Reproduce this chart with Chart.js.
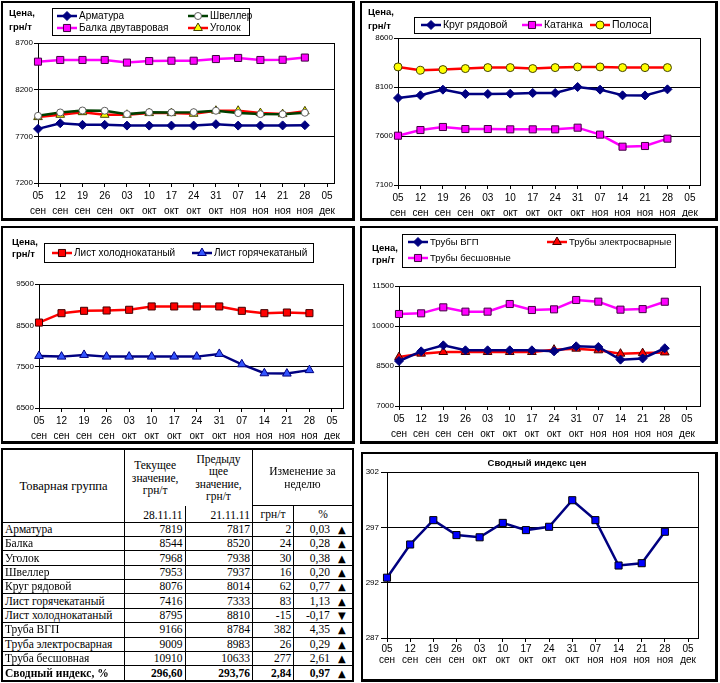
<!DOCTYPE html>
<html>
<head>
<meta charset="utf-8">
<script src="https://cdn.jsdelivr.net/npm/chart.js@4.4.1/dist/chart.umd.min.js"></script>
<style>
  body { margin: 0; width: 720px; height: 683px; position: relative; background: #fff; overflow: hidden;
         font-family: "Liberation Sans", Arial, sans-serif; }
  .panel { position: absolute; box-sizing: border-box; border: 2px solid #000; border-right-width: 3px; border-bottom-width: 3px; }
  canvas { position: absolute; }
  .unit { position: absolute; font: bold 9.5px "Liberation Sans", Arial, sans-serif; line-height: 14px; color: #000; }
  .title { position: absolute; font: bold 9.5px "Liberation Sans", Arial, sans-serif; text-align: center; }
  #tbl { position: absolute; left: 1px; top: 448px; width: 353px; height: 234px; border-collapse: collapse;
         table-layout: fixed; border: 2px solid #000; font: 11.5px "Liberation Serif", "DejaVu Serif", serif; color: #000; }
  #tbl td, #tbl th { border: 1px solid #000; padding: 0 2px; white-space: nowrap; overflow: hidden; }
  #tbl th { font: 11.5px/12.5px "Liberation Serif", "DejaVu Serif", serif; }
  #tbl th.grp { font-size: 12.5px; }
  #tbl td { height: 13px; line-height: 13px; }
  #tbl .num { text-align: right; }
  #tbl .pct { text-align: right; border-right: none; padding-right: 6px; }
  #tbl .arr { text-align: left; border-left: none; font-family: "DejaVu Sans", sans-serif; font-size: 10px; }
  #tbl .nr { border-right: none; }
  #tbl .nl { border-left: none; }
  #tbl .nb { border-bottom: none; }
  #tbl .nt { border-top: none; }
  #tbl .dt { text-align: right; vertical-align: bottom; }
  #tbl tr.total td { font-weight: bold; }
</style>
</head>
<body>

<div class="panel" style="left:1px;top:1px;width:354px;height:220px"></div>
<div class="panel" style="left:360px;top:1px;width:358px;height:220px"></div>
<div class="panel" style="left:1px;top:226px;width:354px;height:218px"></div>
<div class="panel" style="left:360px;top:226px;width:358px;height:218px"></div>
<div class="panel" style="left:361px;top:452px;width:357px;height:230px"></div>

<canvas id="c1" width="354" height="220" style="left:1px;top:1px"></canvas>
<canvas id="c2" width="358" height="220" style="left:360px;top:1px"></canvas>
<canvas id="c3" width="354" height="218" style="left:1px;top:226px"></canvas>
<canvas id="c4" width="358" height="218" style="left:360px;top:226px"></canvas>
<canvas id="c6" width="357" height="230" style="left:361px;top:452px"></canvas>

<div class="unit" style="left:9px;top:6px">Цена,<br>грн/т</div>
<div class="unit" style="left:368px;top:5px">Цена,<br>грн/т</div>
<div class="unit" style="left:12px;top:236px;line-height:12px">Цена,<br>грн/т</div>
<div class="unit" style="left:372px;top:242px;line-height:12px">Цена,<br>грн/т</div>
<div class="title" style="left:437px;top:457px;width:200px">Сводный индекс цен</div>

<table id="tbl">
  <colgroup>
    <col style="width:122px"><col style="width:60px"><col style="width:67px">
    <col style="width:41px"><col style="width:42px"><col style="width:17px">
  </colgroup>
  <tr style="height:55px">
    <th rowspan="2" class="grp">Товарная группа</th>
    <th class="nb nr">Текущее<br>значение,<br>грн/т</th>
    <th class="nb nl">Предыду<br>щее<br>значение,<br>грн/т</th>
    <th colspan="3">Изменение за<br>неделю</th>
  </tr>
  <tr style="height:16px">
    <th class="dt nt">28.11.11</th>
    <th class="dt nt">21.11.11</th>
    <th>грн/т</th>
    <th colspan="2">%</th>
  </tr>
  <tbody id="rows"></tbody>
</table>

<script>
// x axis: weeks
const xDays = ['05', '12', '19', '26', '03', '10', '17', '24', '31', '07', '14', '21', '28', '05'];
const xMonths = ['сен', 'сен', 'сен', 'сен', 'окт', 'окт', 'окт', 'окт', 'окт', 'ноя', 'ноя', 'ноя', 'ноя', 'дек'];

// chart 1
const armatura = [7780, 7840, 7823, 7823, 7815, 7815, 7815, 7815, 7830, 7815, 7815, 7817, 7819];
const shveller = [7920, 7956, 7977, 7974, 7938, 7959, 7956, 7959, 7974, 7949, 7938, 7937, 7953];
const balka    = [8500, 8518, 8518, 8518, 8490, 8507, 8510, 8510, 8528, 8540, 8518, 8520, 8544];
const ugolok   = [7906, 7931, 7959, 7931, 7931, 7949, 7949, 7942, 7974, 7974, 7949, 7938, 7968];

// chart 2
const krug    = [7988, 8015, 8073, 8029, 8029, 8032, 8039, 8039, 8100, 8073, 8015, 8014, 8076];
const katanka = [7603, 7661, 7692, 7671, 7671, 7668, 7668, 7668, 7685, 7614, 7491, 7498, 7573];
const polosa  = [8305, 8271, 8278, 8288, 8298, 8298, 8288, 8298, 8305, 8305, 8298, 8298, 8298];

// chart 3
const listCold = [8567, 8794, 8851, 8859, 8876, 8957, 8957, 8957, 8957, 8851, 8794, 8810, 8795];
const listHot  = [7760, 7743, 7784, 7743, 7743, 7743, 7743, 7743, 7808, 7557, 7340, 7333, 7416];

// chart 4
const tubeVgp      = [8688, 9050, 9275, 9088, 9088, 9088, 9088, 9050, 9238, 9213, 8738, 8784, 9166];
const tubeElectro  = [8838, 8963, 9025, 9025, 9025, 9025, 9025, 9113, 9150, 9088, 8963, 8983, 9009];
const tubeSeamless = [10450, 10475, 10700, 10538, 10538, 10825, 10600, 10625, 10975, 10913, 10613, 10633, 10910];

// chart 5: summary index
const priceIndex = [292.45, 295.45, 297.65, 296.3, 296.1, 297.4, 296.75, 297.05, 299.45, 297.65, 293.55, 293.76, 296.6];

// table
const tableRows = [
  ['Арматура', '7819', '7817', '2', '0,03', '▲'],
  ['Балка', '8544', '8520', '24', '0,28', '▲'],
  ['Уголок', '7968', '7938', '30', '0,38', '▲'],
  ['Швеллер', '7953', '7937', '16', '0,20', '▲'],
  ['Круг рядовой', '8076', '8014', '62', '0,77', '▲'],
  ['Лист горячекатаный', '7416', '7333', '83', '1,13', '▲'],
  ['Лист холоднокатаный', '8795', '8810', '-15', '-0,17', '▼'],
  ['Труба ВГП', '9166', '8784', '382', '4,35', '▲'],
  ['Труба электросварная', '9009', '8983', '26', '0,29', '▲'],
  ['Труба бесшовная', '10910', '10633', '277', '2,61', '▲'],
  ['Сводный индекс, %', '296,60', '293,76', '2,84', '0,97', '▲']
];

const tbody = document.getElementById('rows');
tableRows.forEach((r, i) => {
  const tr = document.createElement('tr');
  if (i === tableRows.length - 1) tr.className = 'total';
  tr.innerHTML = `<td>${r[0]}</td><td class="num">${r[1]}</td><td class="num">${r[2]}</td>` +
    `<td class="num">${r[3]}</td><td class="pct">${r[4]}</td><td class="arr">${r[5]}</td>`;
  tbody.appendChild(tr);
});

const FONT = '"Liberation Sans", Arial, sans-serif';

// frame round the plot area (excel style)
const plotFrame = {
  id: 'plotFrame',
  beforeDatasetsDraw(chart) {
    const { left, top, right, bottom } = chart.chartArea;
    const ctx = chart.ctx;
    ctx.save();
    ctx.strokeStyle = '#000';
    ctx.lineWidth = 1;
    ctx.strokeRect(Math.round(left) + 0.5, Math.round(top) + 0.5, Math.round(right - left), Math.round(bottom - top));
    ctx.restore();
  }
};

// boxed legend with line + marker samples
const boxLegend = {
  id: 'boxLegend',
  afterDraw(chart, args, opts) {
    if (!opts.box) return;
    const ctx = chart.ctx;
    const b = opts.box;
    ctx.save();
    ctx.fillStyle = '#fff';
    ctx.fillRect(b[0], b[1], b[2], b[3]);
    ctx.strokeStyle = '#000';
    ctx.lineWidth = 1;
    ctx.strokeRect(b[0] + 0.5, b[1] + 0.5, b[2], b[3]);
    ctx.font = opts.size + 'px ' + FONT;
    ctx.textBaseline = 'middle';
    chart.data.datasets.forEach((ds, i) => {
      const [x, y] = opts.items[i];
      ctx.strokeStyle = ds.borderColor;
      ctx.lineWidth = ds.borderWidth;
      ctx.beginPath(); ctx.moveTo(x, y); ctx.lineTo(x + 20, y); ctx.stroke();
      ctx.fillStyle = ds.pointBackgroundColor;
      ctx.strokeStyle = ds.pointBorderColor;
      ctx.lineWidth = 1;
      if (Chart.helpers && Chart.helpers.drawPoint) {
        Chart.helpers.drawPoint(ctx, { pointStyle: ds.pointStyle, radius: ds.pointRadius, rotation: 0, borderWidth: 1 }, x + 10, y);
      } else {
        ctx.fillRect(x + 7, y - 3, 6, 6);
      }
      ctx.fillStyle = '#000';
      ctx.fillText(ds.label, x + 22, y + 0.5);
    });
    ctx.restore();
  }
};

function series(label, values, line, marker, r, fill, edge) {
  return {
    label,
    data: values.map((v, i) => ({ x: i, y: v })),
    borderColor: line, borderWidth: 2.5,
    pointStyle: marker, pointRadius: r,
    pointBackgroundColor: fill, pointBorderColor: edge, pointBorderWidth: 1,
    tension: 0, clip: false
  };
}

function makeChart(id, datasets, c) {
  new Chart(document.getElementById(id), {
    type: 'line',
    data: { datasets },
    options: {
      responsive: false,
      animation: false,
      events: [],
      layout: { padding: c.pad },
      plugins: {
        legend: { display: false },
        tooltip: { enabled: false },
        boxLegend: { box: c.box, items: c.items, size: c.legendSize || 10.5 }
      },
      scales: {
        x: {
          type: 'linear', min: 0, max: c.xMax,
          afterBuildTicks: s => { s.ticks = xDays.map((_, i) => ({ value: i })); },
          afterFit: s => { s.height = c.xH; },
          grid: { drawOnChartArea: false, color: '#000', tickLength: 4 },
          border: { color: '#000' },
          ticks: {
            autoSkip: false, maxRotation: 0, padding: 2, color: '#000',
            font: { family: FONT, size: 10, lineHeight: c.lh },
            callback: v => [xDays[v], xMonths[v]]
          }
        },
        y: {
          min: c.yMin, max: c.yMax,
          afterFit: s => { s.width = c.yW; },
          grid: { color: '#000', tickLength: c.yTick || 4 },
          border: { color: '#000' },
          ticks: {
            stepSize: c.yStep, color: '#000', padding: c.yPad || 1,
            font: { family: FONT, size: 8 },
            callback: v => String(v)
          }
        }
      }
    },
    plugins: [plotFrame, boxLegend]
  });
}

const NAVY = '#000080', MAGENTA = '#FF00FF', RED = '#FF0000', YELLOW = '#FFFF00';

makeChart('c1', [
  series('Арматура', armatura, NAVY, 'rectRot', 4.5, NAVY, NAVY),
  series('Швеллер', shveller, '#004000', 'circle', 3.5, '#fff', '#606060'),
  series('Балка двутавровая', balka, MAGENTA, 'rect', 5, MAGENTA, '#400040'),
  series('Уголок', ugolok, RED, 'triangle', 5, YELLOW, '#404000')
], {
  pad: { left: 2, top: 42, right: 21, bottom: 4 }, yW: 35, xH: 34, xMax: 13.31, lh: 1.45,
  yMin: 7200, yMax: 8700, yStep: 500, legendSize: 10,
  box: [51, 7, 197, 27], items: [[56, 15], [187, 15], [56, 27], [187, 27]]
});

makeChart('c2', [
  series('Круг рядовой', krug, NAVY, 'rectRot', 4.5, NAVY, NAVY),
  series('Катанка', katanka, MAGENTA, 'rect', 5, MAGENTA, '#400040'),
  series('Полоса', polosa, RED, 'circle', 4, YELLOW, '#404000')
], {
  pad: { left: 2, top: 37, right: 18, bottom: 4 }, yW: 36, xH: 32, xMax: 13.45, lh: 1.45,
  yMin: 7100, yMax: 8600, yStep: 500, legendSize: 10.5,
  box: [54, 16, 236, 16], items: [[61, 24], [162, 24], [230, 24]]
});

makeChart('c3', [
  series('Лист холоднокатаный', listCold, RED, 'rect', 5, RED, '#400000'),
  series('Лист горячекатаный', listHot, NAVY, 'triangle', 5, '#3355FF', NAVY)
], {
  pad: { left: 2, top: 58, right: 12, bottom: 4 }, yW: 36, xH: 32, xMax: 13.49, lh: 1.45,
  yMin: 6500, yMax: 9500, yStep: 1000, legendSize: 10,
  box: [43, 17, 269, 19], items: [[51, 27], [191, 27]]
});

makeChart('c4', [
  series('Трубы ВГП', tubeVgp, NAVY, 'rectRot', 4.5, NAVY, NAVY),
  series('Трубы электросварные', tubeElectro, RED, 'triangle', 5, RED, '#400000'),
  series('Трубы бесшовные', tubeSeamless, MAGENTA, 'rect', 5, MAGENTA, '#400040')
], {
  pad: { left: 2, top: 60, right: 18, bottom: 4 }, yW: 37, xH: 34, xMax: 13.59, lh: 1.45,
  yMin: 7000, yMax: 11500, yStep: 1500, legendSize: 9.5,
  box: [42, 8, 273, 33], items: [[48, 16], [187, 16], [48, 32]]
});

makeChart('c6', [
  series('Сводный индекс цен', priceIndex, NAVY, 'rect', 5, '#0000FF', '#000')
], {
  pad: { left: 2, top: 20, right: 20, bottom: 4 }, yW: 24, xH: 40, xMax: 13.43, lh: 1.1,
  yMin: 287, yMax: 302, yStep: 5, yTick: 6, yPad: 2
});
</script>
</body>
</html>
